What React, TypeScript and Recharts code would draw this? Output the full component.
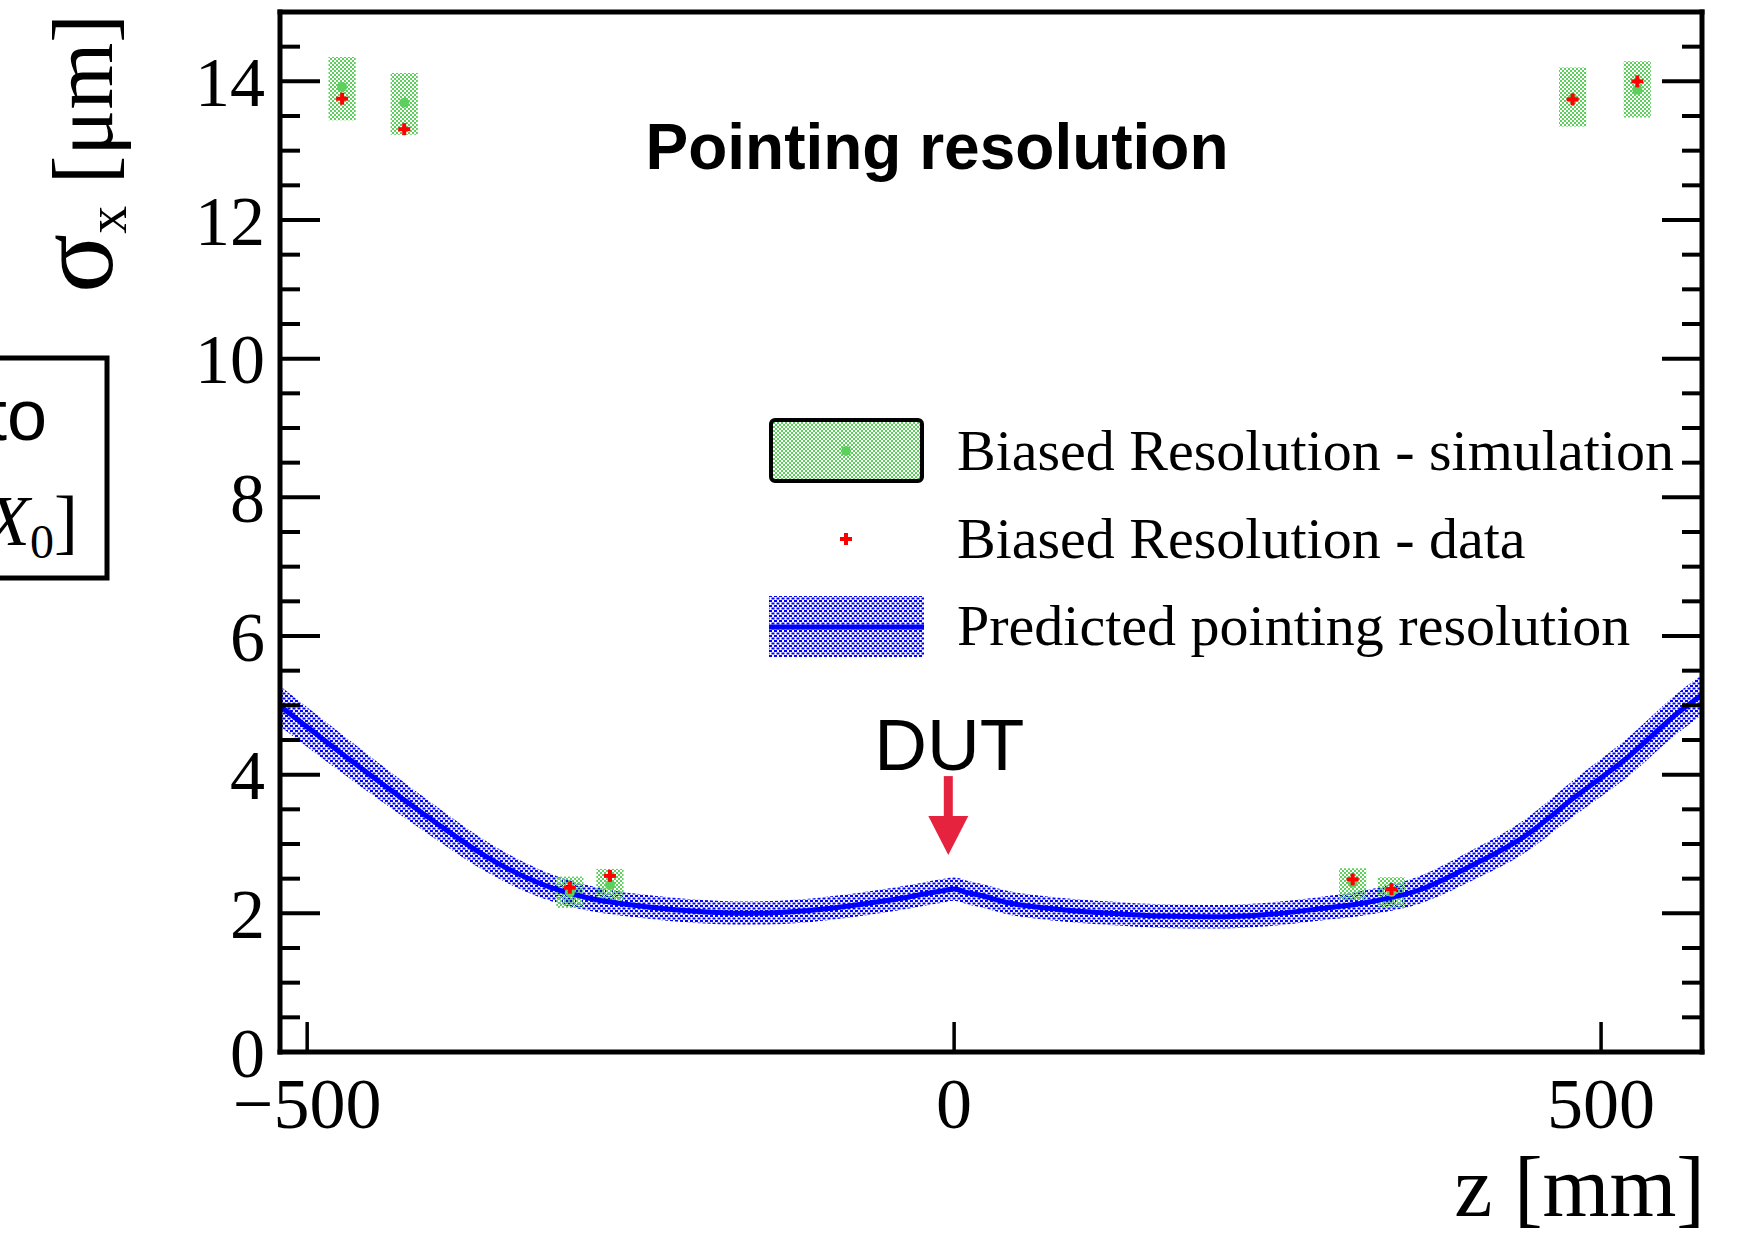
import {
  Area,
  ComposedChart,
  Legend,
  Line,
  ReferenceArea,
  ReferenceDot,
  Scatter,
  XAxis,
  YAxis,
} from "recharts";

// predicted pointing resolution (z in mm, sigma in um)
const predZ = [
  -521, -480, -440, -400, -360, -320, -280, -240, -200, -160, -120, -80, -40, -20, -10, 0,
  10, 20, 40, 80, 120, 160, 200, 240, 280, 320, 360, 400, 440, 480, 520, 560, 578,
];
const predSigma = [
  4.99, 4.4, 3.84, 3.3, 2.8, 2.43, 2.21, 2.1, 2.03, 2.0, 2.03, 2.11, 2.22, 2.29, 2.32, 2.35,
  2.3, 2.26, 2.16, 2.06, 2.0, 1.96, 1.95, 1.98, 2.06, 2.16, 2.34, 2.69, 3.1, 3.68, 4.24, 4.9, 5.15,
];
const predHalfWidth = [
  0.29, 0.28, 0.26, 0.24, 0.22, 0.2, 0.18, 0.17, 0.17, 0.17, 0.17, 0.17, 0.17, 0.17, 0.17, 0.17,
  0.17, 0.17, 0.17, 0.17, 0.17, 0.17, 0.17, 0.17, 0.17, 0.18, 0.2, 0.22, 0.24, 0.26, 0.28, 0.29, 0.29,
];

// telescope planes: simulation (with band) and data
const simZ = [-473, -425, -297, -266, 308, 338, 478, 528];
const simSigma = [13.92, 13.69, 2.3, 2.41, 2.44, 2.31, 13.75, 13.88];
const simLow = [13.44, 13.23, 2.08, 2.16, 2.19, 2.08, 13.35, 13.48];
const simHigh = [14.35, 14.12, 2.53, 2.64, 2.65, 2.52, 14.2, 14.29];
const dataSigma = [13.75, 13.31, 2.37, 2.54, 2.49, 2.35, 13.74, 14.0];
const boxHalfWidthZ = 10.5;

const dutMarker = { z: -4.5, sigma: 2.84 };

const xMajorTicks = [-500, 0, 500];
const xMinorTicks = [-400, -300, -200, -100, 100, 200, 300, 400];
const yMajorTicks = [0, 2, 4, 6, 8, 10, 12, 14];
const yMinorTicks = [
  0.5, 1, 1.5, 2.5, 3, 3.5, 4.5, 5, 5.5, 6.5, 7, 7.5, 8.5, 9, 9.5, 10.5, 11, 11.5,
  12.5, 13, 13.5, 14.5,
];

const legendLabels = [
  "Biased Resolution - simulation",
  "Biased Resolution - data",
  "Predicted pointing resolution",
];

const serif = "'Liberation Serif', 'Times New Roman', serif";
const sans = "'Liberation Sans', Arial, sans-serif";
const GREEN = "#5ccf5c";
const BLUE = "#0000ff";
const RED = "#ff0000";
const ARROW = "#e6233f";

const predData = predZ.map((z, i) => ({
  z,
  sigma: predSigma[i],
  band: [predSigma[i] - predHalfWidth[i], predSigma[i] + predHalfWidth[i]],
}));
const simData = simZ.map((z, i) => ({ z, sigma: simSigma[i] }));
const measData = simZ.map((z, i) => ({ z, sigma: dataSigma[i] }));

const X_DOMAIN = [-521, 578];
const Y_DOMAIN = [0, 15];

function Cross({ cx, cy }: { cx?: number; cy?: number }) {
  if (cx == null || cy == null) return null;
  return (
    <g>
      <rect x={cx - 6} y={cy - 2} width={12} height={4} fill={RED} />
      <rect x={cx - 2} y={cy - 6} width={4} height={12} fill={RED} />
    </g>
  );
}

function Dot({ cx, cy }: { cx?: number; cy?: number }) {
  if (cx == null || cy == null) return null;
  return <circle cx={cx} cy={cy} r={5} fill={GREEN} />;
}

function DutArrow({ cx, cy }: { cx?: number; cy?: number }) {
  if (cx == null || cy == null) return null;
  return (
    <g>
      <rect x={cx - 4.5} y={cy - 79} width={9} height={42} fill={ARROW} />
      <polygon points={`${cx - 20},${cy - 39} ${cx + 20},${cy - 39} ${cx},${cy}`} fill={ARROW} />
      <text x={cx + 1} y={cy - 85} textAnchor="middle" fontFamily={sans} fontSize={73} fill="#000">
        DUT
      </text>
    </g>
  );
}

// tick lines only, no label
const NoLabel = () => <g />;

function YTick(props: any) {
  const { x, y, payload } = props;
  return (
    <text x={x - 15} y={y} dy="0.35em" textAnchor="end" fontFamily={serif} fontSize={70} fill="#000">
      {payload.value}
    </text>
  );
}

function XTick(props: any) {
  const { x, y, payload } = props;
  const v = payload.value < 0 ? `\u2212${Math.abs(payload.value)}` : `${payload.value}`;
  return (
    <text x={x} y={y + 76} textAnchor="middle" fontFamily={serif} fontSize={72} fill="#000">
      {v}
    </text>
  );
}

function YTitle(props: any) {
  const vb = props.viewBox || { x: 280, y: 12 };
  return (
    <text
      transform={`translate(${vb.x - 167}, ${vb.y + 2}) rotate(-90)`}
      textAnchor="end"
      fontFamily={serif}
      fontSize={86}
      fill="#000"
    >
      <tspan fontSize={110}>σ</tspan>
      <tspan fontSize={56} dy={14}>x</tspan>
      <tspan dy={-14}> [μm]</tspan>
    </text>
  );
}

function XTitle(props: any) {
  const vb = props.viewBox || { x: 280, y: 1052, width: 1422 };
  return (
    <text x={vb.x + vb.width + 3} y={vb.y + 164} textAnchor="end" fontFamily={serif} fontSize={86} fill="#000">
      z [mm]
    </text>
  );
}

function PlotLegend() {
  return (
    <svg width={960} height={260} style={{ display: "block", overflow: "visible" }}>
      <rect x={2} y={10} width={151} height={61} rx={4} fill="url(#simHatch)" stroke="#000" strokeWidth={4} />
      <circle cx={77} cy={41} r={5} fill={GREEN} />
      <Cross cx={77} cy={129} />
      <rect x={0} y={186} width={155} height={61} fill="url(#predHatch)" />
      <line x1={0} x2={155} y1={217} y2={217} stroke={BLUE} strokeWidth={5} />
      {legendLabels.map((t, i) => (
        <text key={t} x={188} y={60 + i * 87.5} fontFamily={serif} fontSize={58} fill="#000">
          {t}
        </text>
      ))}
    </svg>
  );
}

const axisLine = { stroke: "#000", strokeWidth: 5, strokeLinecap: "square" as const };

export default function App() {
  return (
    <div style={{ position: "absolute", left: 0, top: 0, width: 1747, height: 1233, background: "#fff" }}>
      <svg width={0} height={0} style={{ position: "absolute" }}>
        <defs>
          <pattern id="simHatch" width={4} height={4} patternUnits="userSpaceOnUse">
            <rect x={0} y={0} width={2} height={2} fill={GREEN} />
            <rect x={2} y={2} width={2} height={2} fill={GREEN} />
          </pattern>
          <pattern id="predHatch" width={5} height={5} patternUnits="userSpaceOnUse">
            <rect x={0} y={0} width={3} height={2} fill={BLUE} />
            <rect x={2.5} y={2.5} width={3} height={2} fill={BLUE} />
            <rect x={-2.5} y={2.5} width={3} height={2} fill={BLUE} />
          </pattern>
        </defs>
      </svg>
      <ComposedChart
        width={1747}
        height={1233}
        data={predData}
        margin={{ top: 10, right: 43, bottom: 179, left: 278 }}
      >
        {/* bottom axis: major ticks with labels, minor ticks */}
        <XAxis
          xAxisId="main"
          dataKey="z"
          type="number"
          domain={X_DOMAIN}
          allowDataOverflow
          ticks={xMajorTicks}
          interval={0}
          height={1}
          tickSize={-30}
          tickMargin={30}
          tickLine={{ stroke: "#000", strokeWidth: 3.5 }}
          axisLine={axisLine}
          tick={<XTick />}
          label={{ content: <XTitle /> }}
        />
        <XAxis
          xAxisId="minorB"
          type="number"
          domain={X_DOMAIN}
          allowDataOverflow
          ticks={xMinorTicks}
          interval={0}
          height={1}
          tickSize={-15}
          tickLine={{ stroke: "#000", strokeWidth: 3.5 }}
          axisLine={false}
          tick={<NoLabel />}
        />
        {/* top axis */}
        <XAxis
          xAxisId="majorT"
          orientation="top"
          type="number"
          domain={X_DOMAIN}
          allowDataOverflow
          ticks={xMajorTicks}
          interval={0}
          height={1}
          tickSize={-32}
          tickLine={{ stroke: "#000", strokeWidth: 4 }}
          axisLine={axisLine}
          tick={<NoLabel />}
        />
        <XAxis
          xAxisId="minorT"
          orientation="top"
          type="number"
          domain={X_DOMAIN}
          allowDataOverflow
          ticks={xMinorTicks}
          interval={0}
          height={1}
          tickSize={-16}
          tickLine={{ stroke: "#000", strokeWidth: 4 }}
          axisLine={false}
          tick={<NoLabel />}
        />
        {/* left axis */}
        <YAxis
          yAxisId="main"
          dataKey="sigma"
          type="number"
          domain={Y_DOMAIN}
          allowDataOverflow
          ticks={yMajorTicks}
          interval={0}
          width={1}
          tickSize={-40}
          tickMargin={40}
          tickLine={{ stroke: "#000", strokeWidth: 4 }}
          axisLine={axisLine}
          tick={<YTick />}
          label={{ content: <YTitle /> }}
        />
        <YAxis
          yAxisId="minorL"
          type="number"
          domain={Y_DOMAIN}
          allowDataOverflow
          ticks={yMinorTicks}
          interval={0}
          width={1}
          tickSize={-21}
          tickLine={{ stroke: "#000", strokeWidth: 4 }}
          axisLine={false}
          tick={<NoLabel />}
        />
        {/* right axis */}
        <YAxis
          yAxisId="majorR"
          orientation="right"
          type="number"
          domain={Y_DOMAIN}
          allowDataOverflow
          ticks={yMajorTicks}
          interval={0}
          width={1}
          tickSize={-40}
          tickLine={{ stroke: "#000", strokeWidth: 4 }}
          axisLine={axisLine}
          tick={<NoLabel />}
        />
        <YAxis
          yAxisId="minorR"
          orientation="right"
          type="number"
          domain={Y_DOMAIN}
          allowDataOverflow
          ticks={yMinorTicks}
          interval={0}
          width={1}
          tickSize={-21}
          tickLine={{ stroke: "#000", strokeWidth: 4 }}
          axisLine={false}
          tick={<NoLabel />}
        />

        <Area
          xAxisId="main"
          yAxisId="main"
          type="monotone"
          dataKey="band"
          fill="url(#predHatch)"
          fillOpacity={1}
          stroke="none"
          isAnimationActive={false}
        />
        <Line
          xAxisId="main"
          yAxisId="main"
          type="monotone"
          dataKey="sigma"
          stroke={BLUE}
          strokeWidth={5}
          dot={false}
          isAnimationActive={false}
        />
        {simZ.map((z, i) => (
          <ReferenceArea
            key={z}
            xAxisId="main"
            yAxisId="main"
            x1={z - boxHalfWidthZ}
            x2={z + boxHalfWidthZ}
            y1={simLow[i]}
            y2={simHigh[i]}
            fill="url(#simHatch)"
            fillOpacity={1}
            stroke="none"
            ifOverflow="visible"
          />
        ))}
        <Scatter
          xAxisId="main"
          yAxisId="main"
          data={simData}
          dataKey="sigma"
          shape={<Dot />}
          isAnimationActive={false}
        />
        <Scatter
          xAxisId="main"
          yAxisId="main"
          data={measData}
          dataKey="sigma"
          shape={<Cross />}
          isAnimationActive={false}
        />
        <ReferenceDot
          xAxisId="main"
          yAxisId="main"
          x={dutMarker.z}
          y={dutMarker.sigma}
          shape={<DutArrow />}
        />
        <Legend
          layout="horizontal"
          verticalAlign="middle"
          align="center"
          wrapperStyle={{ left: 769, top: 410, width: 960, height: 260 }}
          content={() => <PlotLegend />}
        />
      </ComposedChart>

      {/* title and the cut-off frame from the neighbouring figure */}
      <svg
        width={1747}
        height={1233}
        style={{ position: "absolute", left: 0, top: 0, pointerEvents: "none" }}
      >
        <text x={937} y={169} textAnchor="middle" fontFamily={sans} fontWeight="bold" fontSize={64} fill="#000">
          Pointing resolution
        </text>
        <rect x={-10} y={358} width={117} height={220} fill="none" stroke="#000" strokeWidth={5} />
        <text x={47} y={440} textAnchor="end" fontFamily={sans} fontSize={72} fill="#000">
          to
        </text>
        <text x={78} y={545} textAnchor="end" fontFamily={serif} fontSize={72} fill="#000">
          [<tspan fontStyle="italic">X</tspan>
          <tspan fontSize={48} dy={13}>0</tspan>
          <tspan dy={-13}>]</tspan>
        </text>
      </svg>
    </div>
  );
}
